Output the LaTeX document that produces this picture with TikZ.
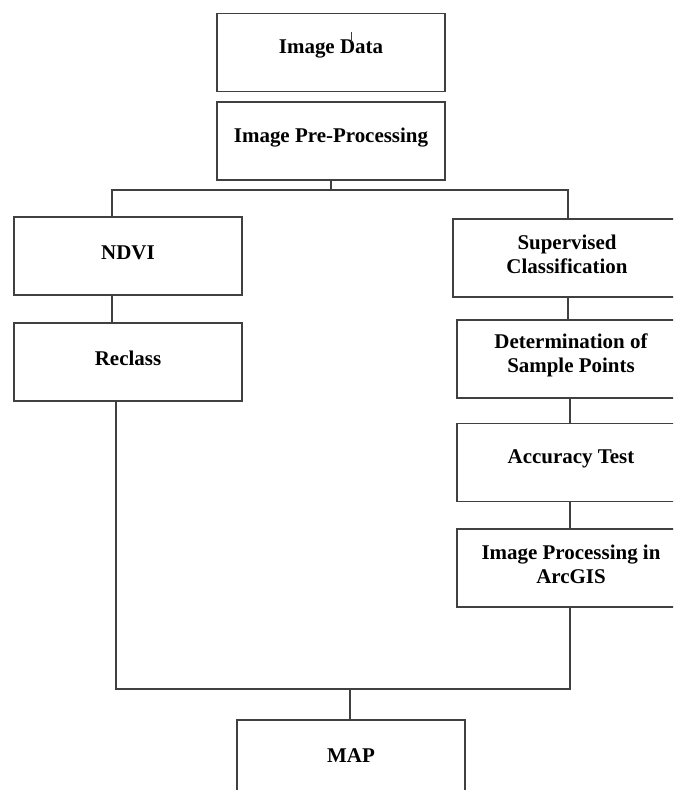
\documentclass[tikz,border=0pt]{standalone}
\usepackage{fontspec}
\setmainfont{Liberation Serif}
\usepackage{tikz}
\usetikzlibrary{calc}
\definecolor{linegrey}{HTML}{404040}
\def\px{0.025}

\tikzset{
  stage/.style={draw=linegrey, line width=1pt, minimum width=5.7cm, minimum height=1.95cm, inner sep=0pt},
  stagetext/.style={font=\fontsize{14.9}{17}\selectfont\bfseries, align=center, yshift=0.09cm},
  link/.style={draw=linegrey, line width=1pt}
}

\begin{document}
\begin{tikzpicture}[x=\px cm, y=-\px cm]
\useasboundingbox (0,0) rectangle (673,790);
\clip (0,0) rectangle (673,790);

% top column
\node[stage, label={[stagetext]center:Image Data}] (data) at (331,52.5) {};
\node[stage, label={[stagetext]center:Image Pre-Processing}] (prep) at (331,141) {};
% stray mark inside the first box
\draw[linegrey, line width=0.6pt] (351,32) -- (351,42);

% left branch
\node[stage, label={[stagetext]center:NDVI}] (ndvi) at (128,256) {};
\node[stage, label={[stagetext]center:Reclass}] (reclass) at (128,362) {};

% right branch
\node[stage, label={[stagetext]center:Supervised\\Classification}] (superv) at (567,258) {};
\node[stage, label={[stagetext]center:Determination of\\Sample Points}] (samples) at (571,359) {};
\node[stage, label={[stagetext]center:Accuracy Test}] (accuracy) at (571,462.5) {};
\node[stage, label={[stagetext]center:Image Processing in\\ArcGIS}] (arcgis) at (571,568) {};

% output
\node[stage, label={[stagetext]center:MAP}] (map) at (351,759) {};

% junctions
\coordinate (split) at (331,190);
\coordinate (splitL) at (112,190);
\coordinate (splitR) at (568,190);
\coordinate (joinL) at (116,689);
\coordinate (joinR) at (570,689);
\coordinate (join) at (350,689);

\draw[link] (prep.south) -- (split);
\draw[link] (splitL |- ndvi.north) -- (splitL) -- (splitR) -- (splitR |- superv.north);
\draw[link] (ndvi.south -| splitL) -- (reclass.north -| splitL);
\draw[link] (superv.south -| splitR) -- (samples.north -| splitR);
\draw[link] (samples.south -| joinR) -- (accuracy.north -| joinR);
\draw[link] (accuracy.south -| joinR) -- (arcgis.north -| joinR);
\draw[link] (reclass.south -| joinL) -- (joinL) -- (joinR) -- (arcgis.south -| joinR);
\draw[link] (join) -- (join |- map.north);

\end{tikzpicture}
\end{document}
